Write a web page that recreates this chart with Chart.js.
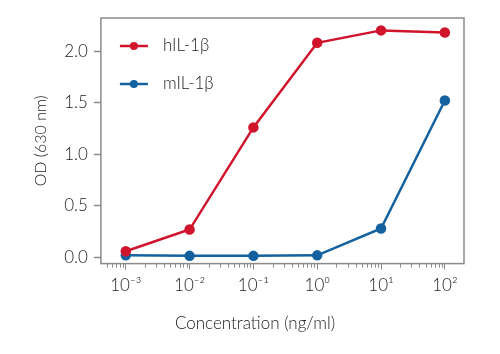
<!DOCTYPE html>
<html>
<head>
<meta charset="utf-8">
<script src="https://cdn.jsdelivr.net/npm/chart.js@4"></script>
<style>
  html, body { margin: 0; padding: 0; background: #fff; }
  #wrap { width: 500px; height: 354px; }
</style>
</head>
<body>
<div id="wrap"><canvas id="odChart"></canvas></div>
<script>
const concentrations = [0.001, 0.01, 0.1, 1, 10, 100];
const hIL1b = [0.06, 0.27, 1.26, 2.08, 2.20, 2.18];
const mIL1b = [0.02, 0.015, 0.015, 0.02, 0.28, 1.52];
const seriesLabels = ["hIL-1β", "mIL-1β"];
const xTickValues = [0.001, 0.01, 0.1, 1, 10, 100];
const xTickLabels = ["10⁻³", "10⁻²", "10⁻¹", "10⁰", "10¹", "10²"];
const yTickValues = [0, 0.5, 1, 1.5, 2];
const xTitle = "Concentration (ng/ml)";
const yTitle = "OD (630 nm)";

const RED = "#d0142c";
const BLUE = "#13619f";
const AXIS = "#8a8a8a";
const TEXT = "#222";
const FONT = "Lato, 'Open Sans', sans-serif";
const WEIGHT = 300;

// box around plot, minor ticks on the log axis, legend inside the plot, x title
const framePlugin = {
  id: "frame",
  afterDraw(chart) {
    const { ctx, chartArea: a } = chart;
    const xs = chart.scales.x;
    ctx.save();
    ctx.strokeStyle = AXIS;
    ctx.lineWidth = 1.5;
    ctx.strokeRect(a.left, a.top, a.right - a.left, a.bottom - a.top);

    // minor ticks
    ctx.lineWidth = 1;
    for (let e = -4; e <= 2; e++) {
      for (let m = 2; m <= 9; m++) {
        const v = m * Math.pow(10, e);
        if (v < xs.min || v > xs.max) continue;
        const px = Math.round(xs.getPixelForValue(v)) + 0.5;
        ctx.beginPath();
        ctx.moveTo(px, a.bottom);
        ctx.lineTo(px, a.bottom + 4);
        ctx.stroke();
      }
    }

    // legend
    chart.data.datasets.forEach((ds, i) => {
      const y = a.top + 28 + i * 38;
      const x0 = a.left + 19;
      ctx.strokeStyle = ds.borderColor;
      ctx.lineWidth = 2.5;
      ctx.beginPath();
      ctx.moveTo(x0, y);
      ctx.lineTo(x0 + 28, y);
      ctx.stroke();
      ctx.fillStyle = ds.borderColor;
      ctx.beginPath();
      ctx.arc(x0 + 14, y, 4, 0, Math.PI * 2);
      ctx.fill();
      ctx.fillStyle = TEXT;
      ctx.font = WEIGHT + " 17px " + FONT;
      ctx.textBaseline = "middle";
      ctx.textAlign = "left";
      ctx.fillText(ds.label, x0 + 43, y);
    });

    // x title (centred a bit left of the plot centre, like the original)
    ctx.fillStyle = TEXT;
    ctx.font = WEIGHT + " 17px " + FONT;
    ctx.textAlign = "center";
    ctx.textBaseline = "middle";
    ctx.fillText(xTitle, 255, 324);
    ctx.restore();
  }
};

const toPoints = (vals) => vals.map((v, i) => ({ x: concentrations[i], y: v }));

new Chart(document.getElementById("odChart"), {
  type: "line",
  data: {
    datasets: [
      {
        label: seriesLabels[0],
        data: toPoints(hIL1b),
        borderColor: RED,
        backgroundColor: RED,
        borderWidth: 2.5,
        pointRadius: 4,
        pointHoverRadius: 4,
      },
      {
        label: seriesLabels[1],
        data: toPoints(mIL1b),
        borderColor: BLUE,
        backgroundColor: BLUE,
        borderWidth: 2.5,
        pointRadius: 4,
        pointHoverRadius: 4,
      },
    ],
  },
  options: {
    responsive: true,
    maintainAspectRatio: false,
    animation: false,
    layout: { padding: { left: 27, right: 36, top: 18, bottom: 52 } },
    plugins: {
      legend: { display: false },
      tooltip: { enabled: false },
    },
    scales: {
      x: {
        type: "logarithmic",
        min: Math.pow(10, -3.39),
        max: Math.pow(10, 2.3),
        afterBuildTicks: (s) => { s.ticks = xTickValues.map((v) => ({ value: v })); },
        grid: { drawOnChartArea: false, tickLength: 6, color: AXIS, tickWidth: 1 },
        border: { display: false },
        ticks: {
          autoSkip: false,
          maxRotation: 0,
          padding: 6,
          color: TEXT,
          font: { family: FONT, size: 17, weight: WEIGHT },
          callback: (v) => {
            const i = xTickValues.indexOf(v);
            return i >= 0 ? xTickLabels[i] : "";
          },
        },
      },
      y: {
        min: -0.06,
        max: 2.32,
        afterBuildTicks: (s) => { s.ticks = yTickValues.map((v) => ({ value: v })); },
        grid: { drawOnChartArea: false, tickLength: 7, color: AXIS, tickWidth: 1.5 },
        border: { display: false },
        ticks: {
          padding: 6,
          color: TEXT,
          font: { family: FONT, size: 17, weight: WEIGHT },
          callback: (v) => v.toFixed(1),
        },
        title: {
          display: true,
          text: yTitle,
          color: TEXT,
          font: { family: FONT, size: 16, weight: WEIGHT },
          padding: { bottom: 8 },
        },
      },
    },
  },
  plugins: [framePlugin],
});
</script>
</body>
</html>
